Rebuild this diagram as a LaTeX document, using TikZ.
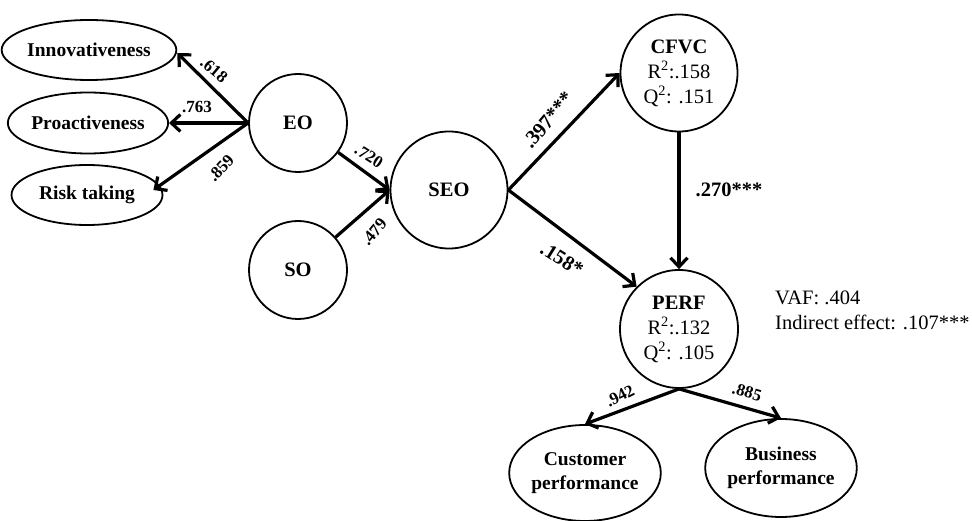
\documentclass[tikz,border=0pt]{standalone}
\usepackage{fontspec}
\setmainfont{Liberation Serif}
\usetikzlibrary{shapes.geometric,arrows.meta}
\begin{document}
\begin{tikzpicture}[x=1pt,y=-1pt,
  lat/.style={circle,draw,line width=1.8pt,inner sep=0pt,align=center,font=\fontsize{20.5}{25}\selectfont},
  ind/.style={ellipse,draw,line width=1.8pt,inner sep=0pt,align=center,font=\fontsize{19.5}{24}\selectfont\bfseries},
  pathar/.style={line width=3.2pt,-{Straight Barb[length=9pt,width=17pt]}},
  lbl/.style={font=\fontsize{17}{20}\selectfont\bfseries,inner sep=0pt},
  blbl/.style={font=\fontsize{20.5}{24}\selectfont\bfseries,inner sep=0pt}
]
\useasboundingbox (0,0) rectangle (972,521);
% indicators
\node[ind,minimum width=152pt,minimum height=60pt] (inn) at (89,50) {Innovativeness};
\node[ind,minimum width=151pt,minimum height=61pt] (pro) at (88,123) {Proactiveness};
\node[ind,minimum width=151pt,minimum height=60pt] (risk) at (87,195) {Risk taking};
\node[ind,minimum width=125pt,minimum height=96pt] (cust) at (585,473) {Customer\\performance};
\node[ind,minimum width=126pt,minimum height=98pt] (bus) at (781,468) {Business\\performance};
% latent
\node[lat,minimum size=98pt] (eo) at (298,123) {\bfseries EO};
\node[lat,minimum size=98pt] (so) at (298,270) {\bfseries SO};
\node[lat,minimum size=117pt] (seo) at (449,190) {\bfseries SEO};
\node[lat,minimum size=117pt] (cfvc) at (679,73) {{\bfseries CFVC}\\R\textsuperscript{2}:.158\\Q\textsuperscript{2}: .151};
\node[lat,minimum size=118pt] (perf) at (679,329) {{\bfseries PERF}\\R\textsuperscript{2}:.132\\Q\textsuperscript{2}: .105};
% paths
\draw[pathar] (eo.west) -- ([yshift=-3pt]inn.east);
\draw[pathar] (eo.west) -- (pro.east);
\draw[pathar] (eo.west) -- ([xshift=-10pt,yshift=5pt]risk.east);
\draw[pathar] (eo) -- (seo.west);
\draw[pathar] (so) -- (seo.west);
\draw[pathar] (seo.east) -- (cfvc.west);
\draw[pathar] (seo.east) -- (perf.north west);
\draw[pathar] (cfvc.south) -- (perf.north);
\draw[pathar] (perf.south) -- (cust.north);
\draw[pathar] (perf.south) -- (bus.north);
% labels
\node[lbl,rotate=-40] (l618) at (214,70) {.618};
\node[lbl] (l763) at (197,107) {.763};
\node[lbl,rotate=47] (l859) at (221,168) {.859};
\node[lbl,rotate=-32] (l720) at (369,156) {.720};
\node[lbl,rotate=50] (l479) at (374,232) {.479};
\node[blbl,rotate=50] (l397) at (548,120) {.397***};
\node[blbl,rotate=-32] (l158) at (562,259) {.158*};
\node[blbl] (l270) at (729,190) {.270***};
\node[lbl,rotate=27] (l942) at (620,396) {.942};
\node[lbl,rotate=-16] (l885) at (747,392) {.885};
\node[anchor=base west,align=left,inner sep=0pt,font=\fontsize{20.5}{25}\selectfont] (vaf) at (775,330) {VAF: .404\\Indirect effect: .107***};
\end{tikzpicture}
\end{document}
